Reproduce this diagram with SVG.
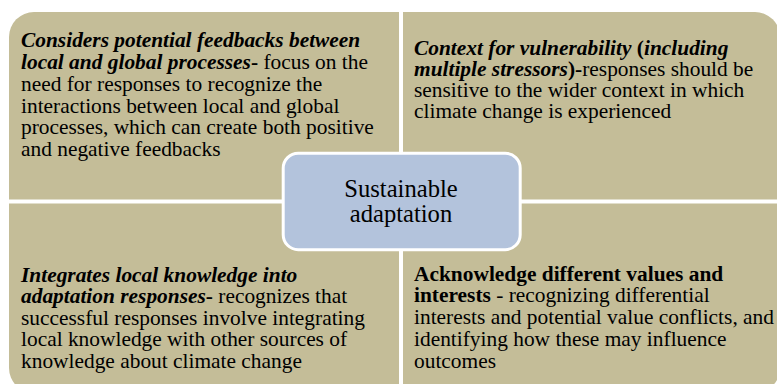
<svg xmlns="http://www.w3.org/2000/svg" width="777" height="384" viewBox="0 0 777 384">
  <style>
    .quad { fill: #c4bd98; }
    .t { font-family: 'Liberation Serif', 'DejaVu Serif', serif; font-size: 21.4px; fill: #000; }
    .bi { font-weight: bold; font-style: italic; }
    .b { font-weight: bold; }
    .center { fill: #b3c3dc; stroke: #ffffff; stroke-width: 3; }
    .ct { font-family: 'Liberation Serif', 'DejaVu Serif', serif; font-size: 24.6px; fill: #000; text-anchor: middle; }
  </style>
  <rect x="0" y="0" width="777" height="384" fill="#ffffff"/>

  <g id="q-top-left">
    <path class="quad" d="M9,199.5 L9,37 A25,25 0 0 1 34,12 L399,12 L399,199.5 Z"/>
    <text class="t">
      <tspan x="21" y="47.3" class="bi">Considers potential feedbacks between</tspan>
      <tspan x="21" y="69"><tspan class="bi">local and global processes</tspan><tspan class="b">-</tspan> focus on the</tspan>
      <tspan x="21" y="91">need for responses to recognize the</tspan>
      <tspan x="21" y="112.7">interactions between local and global</tspan>
      <tspan x="21" y="134.2">processes, which can create both positive</tspan>
      <tspan x="21" y="155.7">and negative feedbacks</tspan>
    </text>
  </g>

  <g id="q-top-right">
    <path class="quad" d="M403,12 L755,12 A25,25 0 0 1 780,37 L780,199.5 L403,199.5 Z"/>
    <text class="t">
      <tspan x="414" y="55"><tspan class="bi">Context for vulnerability</tspan><tspan class="b"> (</tspan><tspan class="bi">including</tspan></tspan>
      <tspan x="414" y="76.3"><tspan class="bi">multiple stressors</tspan><tspan class="b">)-</tspan>responses should be</tspan>
      <tspan x="414" y="97.3">sensitive to the wider context in which</tspan>
      <tspan x="414" y="118.3">climate change is experienced</tspan>
    </text>
  </g>

  <g id="q-bottom-left">
    <path class="quad" d="M9,203.5 L399,203.5 L399,393 L34,393 A25,25 0 0 1 9,368 Z"/>
    <text class="t">
      <tspan x="21" y="281.7" class="bi">Integrates local knowledge into</tspan>
      <tspan x="21" y="303"><tspan class="bi">adaptation responses</tspan><tspan class="b">-</tspan> recognizes that</tspan>
      <tspan x="21" y="324.5">successful responses involve integrating</tspan>
      <tspan x="21" y="346">local knowledge with other sources of</tspan>
      <tspan x="21" y="367.5">knowledge about climate change</tspan>
    </text>
  </g>

  <g id="q-bottom-right">
    <path class="quad" d="M403,203.5 L780,203.5 L780,368 A25,25 0 0 1 755,393 L403,393 Z"/>
    <text class="t">
      <tspan x="414" y="280.5" class="b">Acknowledge different values and</tspan>
      <tspan x="414" y="302.3"><tspan class="b">interests</tspan> - recognizing differential</tspan>
      <tspan x="414" y="324">interests and potential value conflicts, and</tspan>
      <tspan x="414" y="345.8">identifying how these may influence</tspan>
      <tspan x="414" y="367.5">outcomes</tspan>
    </text>
  </g>

  <g id="connectors"></g>

  <g id="center">
    <rect class="center" x="283.2" y="153.2" width="237" height="96.5" rx="15" ry="15"/>
    <text class="ct"><tspan x="401" y="196.7">Sustainable</tspan><tspan x="401" y="221.7">adaptation</tspan></text>
  </g>
</svg>
